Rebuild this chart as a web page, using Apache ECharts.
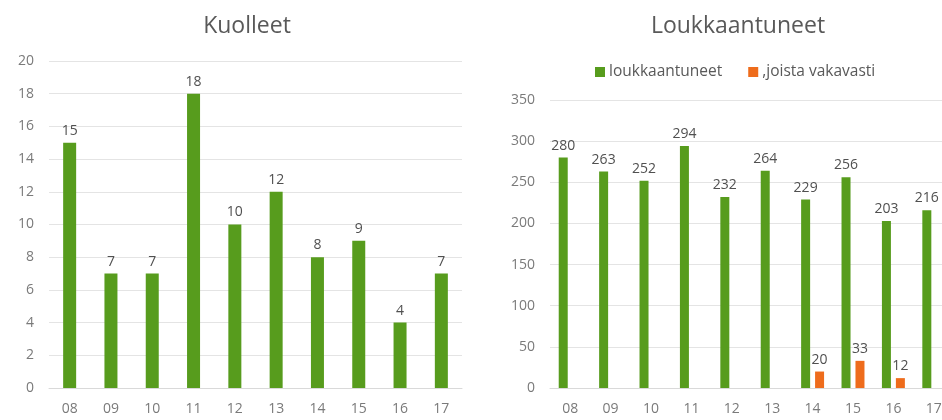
<!DOCTYPE html>
<html>
<head>
<meta charset="utf-8">
<script src="https://cdn.jsdelivr.net/npm/echarts@6/dist/echarts.min.js"></script>
<style>
  html, body { margin: 0; padding: 0; background: #fff; }
  #main { width: 942px; height: 420px; }
</style>
</head>
<body>
<div id="main"></div>
<script>
// vuodet
const years = ["08", "09", "10", "11", "12", "13", "14", "15", "16", "17"];
// kuolleet
const kuolleet = [15, 7, 7, 18, 10, 12, 8, 9, 4, 7];
// loukkaantuneet + joista vakavasti
const loukkaantuneet = [280, 263, 252, 294, 232, 264, 229, 256, 203, 216];
const vakavasti = [null, null, null, null, null, null, 20, 33, 12, null];

const green = "#579c1d";
const orange = "#ee6c1c";
const font = "'Open Sans', sans-serif";

const chart = echarts.init(document.querySelector("#main"));

const tickLabel = { color: "#7a7a7a", fontSize: 14, fontFamily: font };
const dataLabel = { show: true, position: "top", distance: 5, color: "#505050", fontSize: 14, fontFamily: font };
const gridLine = { lineStyle: { color: "#e4e4e4", width: 1 } };

let option = {
    animation: false,
    title: [
        {
            text: "Kuolleet",
            left: 242, top: 10, textAlign: "center",
            textStyle: { color: "#595959", fontSize: 23, fontWeight: "normal", fontFamily: font },
        },
        {
            text: "Loukkaantuneet",
            left: 733, top: 10, textAlign: "center",
            textStyle: { color: "#595959", fontSize: 23, fontWeight: "normal", fontFamily: font },
        },
    ],
    legend: {
        data: ["loukkaantuneet", ",joista vakavasti"],
        left: 590, top: 59,
        icon: "rect", itemWidth: 10, itemHeight: 10, itemGap: 26,
        textStyle: { color: "#595959", fontSize: 15.5, fontFamily: font, padding: [0, 0, 0, -1] },
    },
    grid: [
        { left: 49, top: 61, width: 413, height: 327, outerBoundsMode: "none" },
        { left: 550, top: 100, width: 404, height: 288, outerBoundsMode: "none" },
    ],
    xAxis: [
        {
            gridIndex: 0, type: "category", data: years,
            axisLine: { lineStyle: { color: "#d9d9d9" } },
            axisTick: { show: false },
            axisLabel: Object.assign({ margin: 14 }, tickLabel),
        },
        {
            gridIndex: 1, type: "category", data: years,
            axisLine: { lineStyle: { color: "#d9d9d9" } },
            axisTick: { show: false },
            axisLabel: Object.assign({ margin: 14 }, tickLabel),
        },
    ],
    yAxis: [
        {
            gridIndex: 0, type: "value", min: 0, max: 20, interval: 2,
            axisLine: { show: false }, axisTick: { show: false },
            splitLine: gridLine,
            axisLabel: Object.assign({ margin: 15 }, tickLabel),
        },
        {
            gridIndex: 1, type: "value", min: 0, max: 350, interval: 50,
            axisLine: { show: false }, axisTick: { show: false },
            splitLine: gridLine,
            axisLabel: Object.assign({ margin: 15 }, tickLabel),
        },
    ],
    series: [
        {
            name: "kuolleet", type: "bar",
            xAxisIndex: 0, yAxisIndex: 0,
            data: kuolleet, barWidth: 13,
            itemStyle: { color: green },
            label: dataLabel,
        },
        {
            name: "loukkaantuneet", type: "bar",
            xAxisIndex: 1, yAxisIndex: 1,
            data: loukkaantuneet, barWidth: 9, barGap: "55%",
            itemStyle: { color: green },
            label: dataLabel,
        },
        {
            name: ",joista vakavasti", type: "bar",
            xAxisIndex: 1, yAxisIndex: 1,
            data: vakavasti, barWidth: 9, barGap: "55%",
            itemStyle: { color: orange },
            label: dataLabel,
        },
    ],
};
chart.setOption(option);
</script>
</body>
</html>
